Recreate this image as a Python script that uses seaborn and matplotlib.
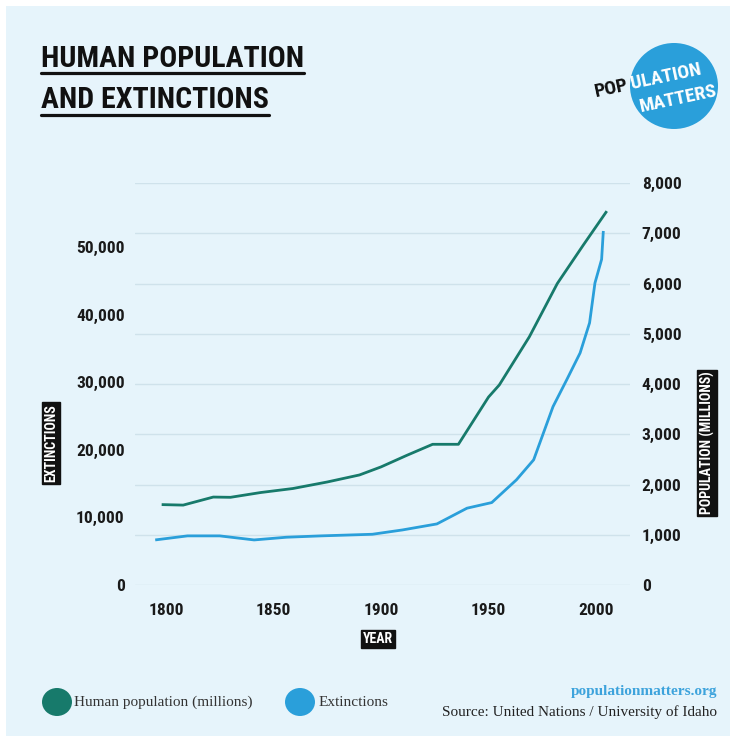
import numpy as np
import pandas as pd
import matplotlib
matplotlib.use("Agg")
import matplotlib.pyplot as plt
import seaborn as sns
from matplotlib import font_manager as fm
from matplotlib.patches import Ellipse, Rectangle
from matplotlib.lines import Line2D

# ---------------- data ----------------
pop_years = [1798, 1808, 1822, 1830, 1844, 1859, 1875, 1890, 1900, 1912, 1924,
             1936, 1950, 1955, 1969, 1982, 1994, 2005]
population = [1600, 1590, 1750, 1745, 1840, 1920, 2050, 2190, 2350, 2580, 2800,
              2800, 3740, 3980, 4940, 6000, 6760, 7440]

ext_years = [1795, 1810, 1825, 1841, 1856, 1872, 1896, 1910, 1926, 1940, 1951.5,
             1963, 1971, 1980, 1986.4, 1992.6, 1997, 1999.5, 2002.6, 2003.4]
extinctions = [6670, 7270, 7270, 6670, 7070, 7270, 7510, 8150, 9040, 11370, 12200,
               15570, 18530, 26400, 30390, 34350, 38800, 44700, 48200, 52400]

year_ticks = [1800, 1850, 1900, 1950, 2000]
ext_ticks = [0, 10000, 20000, 30000, 40000, 50000]
pop_ticks = [0, 1000, 2000, 3000, 4000, 5000, 6000, 7000, 8000]

title_lines = ["HUMAN POPULATION", "AND EXTINCTIONS"]
series_names = ["Human population (millions)", "Extinctions"]

# ---------------- style ----------------
BG = "#E6F4FB"
GRID = "#CFE2EB"
GREEN = "#177A6B"
BLUE = "#2A9FDA"
DARK = "#1A1A1A"

sns.set_style("white")
names = {f.name for f in fm.fontManager.ttflist}
COND = next((n for n in ["Roboto Condensed", "Liberation Sans Narrow",
                         "Open Sans Condensed", "DejaVu Sans"] if n in names), "DejaVu Sans")
SERIF = next((n for n in ["Liberation Serif", "DejaVu Serif"] if n in names), "DejaVu Serif")
plt.rcParams["font.family"] = [COND, "DejaVu Sans"]

W, H = 736, 742
fig = plt.figure(figsize=(W / 100, H / 100), dpi=100)
fig.patch.set_facecolor("white")
fig.add_artist(Rectangle((6 / W, 1 - 736 / H), 724 / W, 730 / H,
                         transform=fig.transFigure, facecolor=BG, edgecolor="none", zorder=-10))

def fx(px):
    return px / W

def fy(py):
    return 1 - py / H

ax = fig.add_axes([fx(135), fy(585), 495 / W, 402 / H])
ax2 = ax.twinx()

df_pop = pd.DataFrame({"year": pop_years, "value": population})
df_ext = pd.DataFrame({"year": ext_years, "value": extinctions})

sns.lineplot(data=df_pop, x="year", y="value", ax=ax2, color=GREEN, linewidth=2.0,
             solid_capstyle="butt", zorder=3)
sns.lineplot(data=df_ext, x="year", y="value", ax=ax, color=BLUE, linewidth=2.0,
             solid_capstyle="butt", zorder=3)

ax.set_zorder(ax2.get_zorder() + 1)
ax.patch.set_visible(False)
ax2.patch.set_visible(False)

ax.set_xlim(1785.6, 2015.8)
ax.set_ylim(0, 59500)
ax2.set_ylim(0, 8000)

ax2.set_yticks(pop_ticks)
ax2.set_yticklabels([f"{v:,}" for v in pop_ticks])
ax2.grid(True, axis="y", color=GRID, linewidth=1.0)
ax2.set_axisbelow(True)
ax.grid(False)

ax.set_yticks(ext_ticks)
ax.set_yticklabels([f"{v:,}" for v in ext_ticks])
ax.set_xticks(year_ticks)
ax.set_xticklabels([str(y) for y in year_ticks])

for a in (ax, ax2):
    for s in a.spines.values():
        s.set_visible(False)
    a.set_xlabel("")
    a.set_ylabel("")

ax.tick_params(axis="y", length=0, pad=7.5, labelsize=12.5, labelcolor=DARK)
ax2.tick_params(axis="y", length=0, pad=8.5, labelsize=12.5, labelcolor=DARK)
ax.tick_params(axis="x", length=0, pad=13, labelsize=12.5, labelcolor=DARK)
for lab in ax.get_yticklabels() + ax.get_xticklabels() + ax2.get_yticklabels():
    lab.set_fontweight("bold")

# boxed axis titles
box = dict(boxstyle="square,pad=0.15", facecolor="#111111", edgecolor="#111111")
fig.text(fx(51), fy(443), "EXTINCTIONS", rotation=90, ha="center", va="center",
         color="white", fontsize=10, fontweight="bold", bbox=box)
fig.text(fx(707), fy(443), "POPULATION (MILLIONS)", rotation=90, ha="center", va="center",
         color="white", fontsize=10, fontweight="bold", bbox=box)
fig.text(fx(378), fy(639), "YEAR", ha="center", va="center",
         color="white", fontsize=10, fontweight="bold", bbox=box)

# title with underline
t1 = fig.text(fx(41), fy(67), title_lines[0], ha="left", va="baseline",
              fontsize=21.5, fontweight="bold", color="#111111")
t2 = fig.text(fx(41), fy(108), title_lines[1], ha="left", va="baseline",
              fontsize=21.5, fontweight="bold", color="#111111")
fig.canvas.draw()
rend = fig.canvas.get_renderer()
for t, uy in ((t1, 72.5), (t2, 114.5)):
    bb = t.get_window_extent(renderer=rend)
    fig.add_artist(Line2D([bb.x0 / W, bb.x1 / W], [fy(uy), fy(uy)],
                          transform=fig.transFigure, color="#111111", linewidth=2.3))

# logo
circ = Ellipse((fx(674), fy(86)), 88 / W, 86 / H, transform=fig.transFigure,
               facecolor="#2A9FDA", edgecolor="none")
fig.add_artist(circ)
ang = np.deg2rad(12)
u = np.array([np.cos(ang), np.sin(ang)])
LOGO_FS = 14

def text_width(s):
    tmp = fig.text(0, 0, s, fontsize=LOGO_FS, fontweight="bold")
    w = tmp.get_window_extent(renderer=rend).width
    tmp.remove()
    return w

# "POPULATION": "POP" in black outside the disc, "ULATION" in white inside
p0 = np.array([596.0, H - 97.0])  # left baseline, display px
fig.text(p0[0] / W, p0[1] / H, "POP", rotation=12, rotation_mode="anchor",
         ha="left", va="baseline", fontsize=LOGO_FS, fontweight="bold", color="#111111")
p1 = p0 + (text_width("POP") + 3) * u
fig.text(p1[0] / W, p1[1] / H, "ULATION", rotation=12, rotation_mode="anchor",
         ha="left", va="baseline", fontsize=LOGO_FS, fontweight="bold", color="white")
fig.text(fx(678), fy(99), "MATTERS", rotation=12, rotation_mode="anchor",
         ha="center", va="center", fontsize=LOGO_FS, fontweight="bold", color="white")

# legend
fig.add_artist(Ellipse((fx(57), fy(702)), 30 / W, 28 / H, transform=fig.transFigure,
                       facecolor=GREEN, edgecolor="none"))
fig.text(fx(74), fy(702), series_names[0], ha="left", va="center",
         fontsize=11, color="#333333", family=SERIF)
fig.add_artist(Ellipse((fx(300), fy(702)), 30 / W, 28 / H, transform=fig.transFigure,
                       facecolor=BLUE, edgecolor="none"))
fig.text(fx(319), fy(702), series_names[1], ha="left", va="center",
         fontsize=11, color="#333333", family=SERIF)

fig.text(fx(717), fy(692), "populationmatters.org", ha="right", va="center",
         fontsize=11, color="#3DA3DC", fontweight="bold", family=SERIF)
fig.text(fx(717), fy(712), "Source: United Nations / University of Idaho", ha="right",
         va="center", fontsize=11, color="#222222", family=SERIF)

fig.savefig("out.png", dpi=100, facecolor=fig.get_facecolor())
